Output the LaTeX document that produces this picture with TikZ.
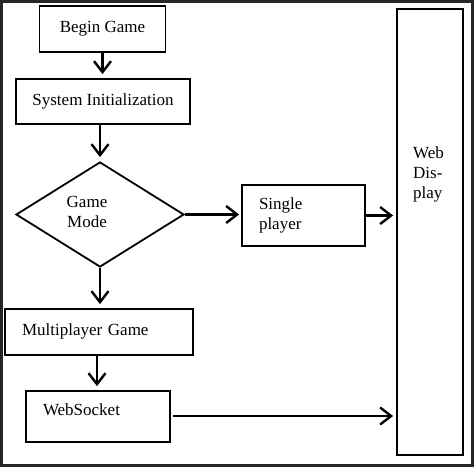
\documentclass[tikz,border=0pt]{standalone}
\usepackage{fontspec}
\setmainfont{Liberation Serif}
\usetikzlibrary{shapes.geometric,arrows.meta}
\begin{document}
\begin{tikzpicture}[x=1pt,y=-1pt,
  every node/.style={font=\fontsize{17}{20}\selectfont},
  box/.style={draw,line width=1.8pt,inner sep=0pt,align=center},
  lbox/.style={draw,line width=1.8pt,inner ysep=0pt,inner xsep=17pt,align=left},
  conn/.style={line width=2.4pt,-{Straight Barb[length=11pt,width=17pt]},shorten >=4pt}
]
\useasboundingbox (0,0) rectangle (474,467);
\draw[line width=3pt,draw=black!85] (1.5,1.5) rectangle (472.5,465.5);

\node[box,minimum width=126pt,minimum height=46pt] (begin) at (102.5,29) {Begin Game};
\node[box,minimum width=174pt,minimum height=45pt] (init) at (103,101.5) {System Initialization};
\node[draw,line width=1.8pt,diamond,inner sep=0pt,minimum width=168pt,minimum height=105pt] (mode) at (100,214.5) {};
\node[align=center,inner sep=0pt] (modetext) at (87,212) {Game\\Mode};
\node[lbox,text width=89pt,minimum height=61pt] (single) at (303.5,215.5) {Single\\player};
\node[lbox,text width=154pt,minimum height=46pt] (multi) at (99,332) {Multiplayer Game\rule[-4pt]{0pt}{0pt}};
\node[lbox,text width=110pt,minimum height=51pt] (ws) at (98,416.5) {WebSocket\rule[-14pt]{0pt}{0pt}};
\node[draw,line width=1.8pt,minimum width=66pt,minimum height=446pt,inner sep=0pt] (web) at (430,232) {};
\node[align=left,anchor=north west,inner sep=0pt] (webtext) at (413,146) {Web\\Dis-\\play};

\draw[conn] (begin.south) -- (begin.south |- init.north);
\draw[conn] (mode.north |- init.south) -- (mode.north);
\draw[conn] (mode.south) -- (mode.south |- multi.north);
\draw[conn] ([xshift=-2pt]multi.south) -- ([xshift=-1pt]ws.north);
\draw[conn,shorten >=2pt] (mode.east) -- (mode.east -| single.west);
\draw[conn,shorten >=3pt] (single.east) -- (single.east -| web.west);
\draw[conn,shorten >=3pt,shorten <=2pt] ([yshift=0.5pt]ws.east) -- ([yshift=0.5pt]ws.east -| web.west);
\end{tikzpicture}
\end{document}
